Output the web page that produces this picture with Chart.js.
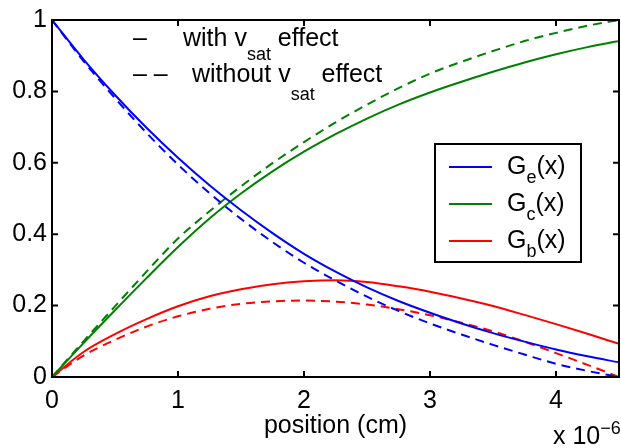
<!DOCTYPE html>
<html>
<head>
<meta charset="utf-8">
<script src="https://cdn.jsdelivr.net/npm/chart.js@4.4.1/dist/chart.umd.min.js"></script>
<style>
  body { margin: 0; background: #fff; }
  #wrap { width: 621px; height: 448px; }
</style>
</head>
<body>
<div id="wrap"><canvas id="chart"></canvas></div>
<script>
// position in units of 1e-6 cm
const positions = [0, 0.25, 0.5, 0.75, 1, 1.25, 1.5, 1.75, 2, 2.25, 2.5, 2.75, 3, 3.25, 3.5, 3.75, 4, 4.25, 4.5];

// with v_sat effect (solid)
const geWith = [1, 0.89, 0.79, 0.698, 0.614, 0.537, 0.467, 0.403, 0.345, 0.295, 0.251, 0.213, 0.18, 0.15, 0.123, 0.099, 0.077, 0.058, 0.041];
const gcWith = [0, 0.095, 0.187, 0.277, 0.364, 0.444, 0.514, 0.576, 0.631, 0.68, 0.724, 0.763, 0.797, 0.827, 0.855, 0.881, 0.904, 0.924, 0.941];
const gbWith = [0, 0.07, 0.12, 0.162, 0.198, 0.226, 0.246, 0.26, 0.268, 0.271, 0.266, 0.254, 0.239, 0.22, 0.199, 0.174, 0.148, 0.121, 0.093];

// without v_sat effect (dashed)
const geWithout = [1, 0.885, 0.781, 0.684, 0.595, 0.515, 0.443, 0.378, 0.32, 0.27, 0.225, 0.185, 0.15, 0.119, 0.09, 0.063, 0.037, 0.017, 0];
const gcWithout = [0, 0.1, 0.198, 0.295, 0.388, 0.464, 0.534, 0.599, 0.658, 0.713, 0.763, 0.809, 0.85, 0.883, 0.913, 0.941, 0.964, 0.984, 1.0];
const gbWithout = [0, 0.06, 0.104, 0.141, 0.17, 0.191, 0.205, 0.212, 0.214, 0.211, 0.203, 0.19, 0.173, 0.152, 0.128, 0.099, 0.067, 0.034, 0];

const xTicks = [0, 1, 2, 3, 4];
const yTicks = [0, 0.2, 0.4, 0.6, 0.8, 1];

const FONT = "'Liberation Sans', Arial, Helvetica, sans-serif";

function points(values)
{
    return values.map((v, i) => ({ x: positions[i], y: v }));
}

function line(label, values, color, dashed)
{
    return {
        label: label,
        data: points(values),
        borderColor: color,
        borderWidth: 2,
        borderDash: dashed ? [9, 6] : [],
        pointRadius: 0,
        fill: false,
        cubicInterpolationMode: 'monotone',
    };
}

// draws text pieces one after another, each with its own size and baseline
function drawRun(ctx, x, y, pieces)
{
    pieces.forEach((p) => {
        ctx.font = p.size + 'px ' + FONT;
        ctx.fillText(p.text, x, y + (p.dy || 0));
        x += ctx.measureText(p.text).width;
    });
}

const decorations = {
    id: 'decorations',
    afterDraw(chart)
    {
        const ctx = chart.ctx;
        const area = chart.chartArea;
        const xs = chart.scales.x;
        const ys = chart.scales.y;
        const tick = 6;

        ctx.save();
        ctx.strokeStyle = '#000';
        ctx.fillStyle = '#000';
        ctx.lineWidth = 2;
        ctx.setLineDash([]);

        // inward ticks on all four sides
        ctx.beginPath();
        xTicks.forEach((t) => {
            const px = xs.getPixelForValue(t);
            ctx.moveTo(px, area.bottom); ctx.lineTo(px, area.bottom - tick);
            ctx.moveTo(px, area.top); ctx.lineTo(px, area.top + tick);
        });
        yTicks.forEach((t) => {
            const py = ys.getPixelForValue(t);
            ctx.moveTo(area.left, py); ctx.lineTo(area.left + tick, py);
            ctx.moveTo(area.right, py); ctx.lineTo(area.right - tick, py);
        });
        ctx.stroke();

        // axes box
        ctx.strokeRect(area.left, area.top, area.right - area.left, area.bottom - area.top);

        // line style legend (top left)
        ctx.textBaseline = 'alphabetic';
        ctx.textAlign = 'left';
        drawRun(ctx, 133, 46, [{ text: '\u2013', size: 25 }]);
        drawRun(ctx, 183, 46, [
            { text: 'with v', size: 25 },
            { text: 'sat', size: 18, dy: 14 },
            { text: ' effect', size: 25 },
        ]);
        drawRun(ctx, 133, 82, [{ text: '\u2013 \u2013', size: 25 }]);
        drawRun(ctx, 192, 82, [
            { text: 'without v', size: 25 },
            { text: 'sat', size: 18, dy: 18 },
            { text: ' effect', size: 25 },
        ]);

        // series legend box
        const box = { left: 435, top: 144, right: 581, bottom: 262 };
        ctx.fillStyle = '#fff';
        ctx.fillRect(box.left, box.top, box.right - box.left, box.bottom - box.top);
        ctx.strokeRect(box.left, box.top, box.right - box.left, box.bottom - box.top);
        const rows = [
            { sub: 'e', color: '#0000ff' },
            { sub: 'c', color: '#008000' },
            { sub: 'b', color: '#ff0000' },
        ];
        rows.forEach((r, i) => {
            const y = 167 + i * 37;
            ctx.strokeStyle = r.color;
            ctx.beginPath();
            ctx.moveTo(449, y);
            ctx.lineTo(492, y);
            ctx.stroke();
            ctx.fillStyle = '#000';
            drawRun(ctx, 507, y + 7, [
                { text: 'G', size: 25 },
                { text: r.sub, size: 18, dy: 9 },
                { text: '(x)', size: 25 },
            ]);
        });

        // exponent of the x axis
        ctx.fillStyle = '#000';
        drawRun(ctx, 553, 444, [
            { text: 'x 10', size: 25 },
            { text: '\u22126', size: 18, dy: -10 },
        ]);
        ctx.restore();
    },
};

new Chart(document.getElementById('chart'), {
    type: 'line',
    data: {
        datasets: [
            line('Ge with', geWith, '#0000ff', false),
            line('Gc with', gcWith, '#008000', false),
            line('Gb with', gbWith, '#ff0000', false),
            line('Ge without', geWithout, '#0000ff', true),
            line('Gc without', gcWithout, '#008000', true),
            line('Gb without', gbWithout, '#ff0000', true),
        ],
    },
    options: {
        responsive: true,
        maintainAspectRatio: false,
        animation: false,
        layout: { padding: { top: 12, right: 2, left: 0, bottom: 0 } },
        plugins: {
            legend: { display: false },
            tooltip: { enabled: false },
        },
        scales: {
            x: {
                type: 'linear',
                min: 0,
                max: 4.5,
                grid: { display: false, drawTicks: false },
                border: { display: false },
                ticks: {
                    stepSize: 1,
                    includeBounds: false,
                    padding: 9,
                    color: '#000',
                    font: { family: FONT, size: 25 },
                    callback: (v) => (Number.isInteger(v) ? String(v) : ''),
                },
                title: {
                    display: true,
                    text: 'position (cm)',
                    color: '#000',
                    font: { family: FONT, size: 25 },
                    padding: { top: 0, bottom: 7 },
                },
                afterFit: (s) => { s.height = 71; },
            },
            y: {
                min: 0,
                max: 1,
                grid: { display: false, drawTicks: false },
                border: { display: false },
                ticks: {
                    stepSize: 0.2,
                    padding: 5,
                    color: '#000',
                    font: { family: FONT, size: 25 },
                    callback: (v) => String(Math.round(v * 10) / 10),
                },
                afterFit: (s) => { s.width = 52; },
            },
        },
    },
    plugins: [decorations],
});
</script>
</body>
</html>
